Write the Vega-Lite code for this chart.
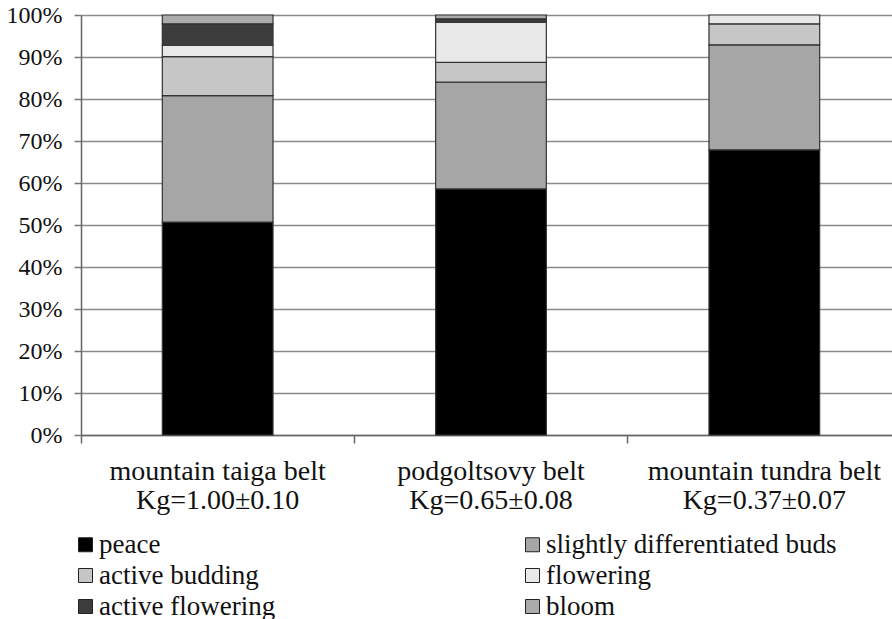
{
  "$schema": "https://vega.github.io/schema/vega-lite/v6.json",
  "autosize": {"type": "none"},
  "padding": {"left": 81, "top": 15, "right": 0, "bottom": 184},
  "width": 820,
  "height": 420,
  "background": "white",
  "data": {
    "values": [
      {"belt": "mountain taiga belt\nKg=1.00±0.10", "stage": "peace", "share": 50.7},
      {"belt": "mountain taiga belt\nKg=1.00±0.10", "stage": "slightly differentiated buds", "share": 30.1},
      {"belt": "mountain taiga belt\nKg=1.00±0.10", "stage": "active budding", "share": 9.3},
      {"belt": "mountain taiga belt\nKg=1.00±0.10", "stage": "flowering", "share": 2.7},
      {"belt": "mountain taiga belt\nKg=1.00±0.10", "stage": "active flowering", "share": 5.1},
      {"belt": "mountain taiga belt\nKg=1.00±0.10", "stage": "bloom", "share": 2.1},
      {"belt": "podgoltsovy belt\nKg=0.65±0.08", "stage": "peace", "share": 58.6},
      {"belt": "podgoltsovy belt\nKg=0.65±0.08", "stage": "slightly differentiated buds", "share": 25.4},
      {"belt": "podgoltsovy belt\nKg=0.65±0.08", "stage": "active budding", "share": 4.7},
      {"belt": "podgoltsovy belt\nKg=0.65±0.08", "stage": "flowering", "share": 9.6},
      {"belt": "podgoltsovy belt\nKg=0.65±0.08", "stage": "active flowering", "share": 0.8},
      {"belt": "podgoltsovy belt\nKg=0.65±0.08", "stage": "bloom", "share": 0.9},
      {"belt": "mountain tundra belt\nKg=0.37±0.07", "stage": "peace", "share": 67.9},
      {"belt": "mountain tundra belt\nKg=0.37±0.07", "stage": "slightly differentiated buds", "share": 25.0},
      {"belt": "mountain tundra belt\nKg=0.37±0.07", "stage": "active budding", "share": 5.0},
      {"belt": "mountain tundra belt\nKg=0.37±0.07", "stage": "flowering", "share": 2.1}
    ]
  },
  "transform": [
    {"calculate": "indexof(['peace', 'slightly differentiated buds', 'active budding', 'flowering', 'active flowering', 'bloom'], datum.stage)", "as": "stageOrder"}
  ],
  "mark": {"type": "bar", "width": {"band": 0.405}, "stroke": "#333333", "strokeWidth": 1.2},
  "encoding": {
    "x": {
      "field": "belt",
      "type": "nominal",
      "sort": null,
      "scale": {"paddingInner": 0, "paddingOuter": 0},
      "axis": {
        "title": null,
        "labelAngle": 0,
        "labelExpr": "split(datum.label, '\\n')",
        "labelFont": "Times New Roman, DejaVu Serif, serif",
        "labelFontSize": 28,
        "labelLimit": 400,
        "labelColor": "#111111",
        "labelLineHeight": 29,
        "labelPadding": 14,
        "bandPosition": 0,
        "tickSize": 8,
        "tickColor": "#666666",
        "tickWidth": 1.5,
        "domainColor": "#666666",
        "domainWidth": 1.5,
        "grid": false
      }
    },
    "y": {
      "field": "share",
      "type": "quantitative",
      "stack": "zero",
      "scale": {"domain": [0, 100], "nice": false},
      "axis": {
        "title": null,
        "values": [0, 10, 20, 30, 40, 50, 60, 70, 80, 90, 100],
        "labelExpr": "datum.value + '%'",
        "labelFont": "Times New Roman, DejaVu Serif, serif",
        "labelFontSize": 24,
        "labelColor": "#111111",
        "labelPadding": 12,
        "tickSize": 7,
        "tickColor": "#777777",
        "tickWidth": 1.5,
        "domainColor": "#666666",
        "domainWidth": 1.5,
        "grid": true,
        "gridColor": "#8a8a8a",
        "gridWidth": 1.5
      }
    },
    "color": {
      "field": "stage",
      "type": "nominal",
      "sort": ["peace", "slightly differentiated buds", "active budding", "flowering", "active flowering", "bloom"],
      "scale": {
        "domain": ["peace", "slightly differentiated buds", "active budding", "flowering", "active flowering", "bloom"],
        "range": ["#000000", "#a6a6a6", "#c6c6c6", "#e8e8e8", "#3c3c3c", "#ababab"]
      },
      "legend": {
        "title": null,
        "orient": "none",
        "legendX": -9,
        "legendY": 516,
        "direction": "horizontal",
        "columns": 2,
        "columnPadding": 243,
        "rowPadding": 3,
        "padding": 0,
        "symbolType": "square",
        "symbolSize": 196,
        "symbolStrokeColor": "#222222",
        "symbolStrokeWidth": 1,
        "labelFont": "Times New Roman, DejaVu Serif, serif",
        "labelFontSize": 27,
        "labelColor": "#111111",
        "labelOffset": 0,
        "labelLimit": 500
      }
    },
    "order": {"field": "stageOrder", "type": "quantitative", "sort": "ascending"}
  },
  "config": {"view": {"stroke": null}}
}
